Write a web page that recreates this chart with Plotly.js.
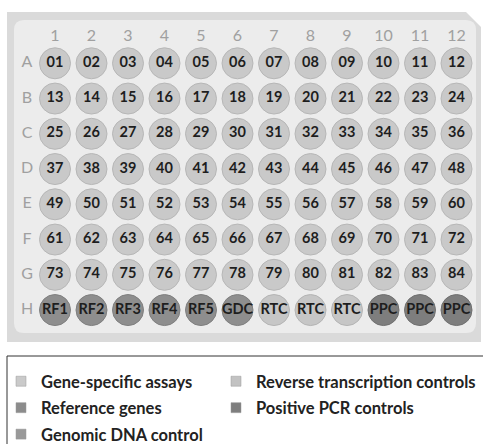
<!DOCTYPE html>
<html><head><meta charset="utf-8">
<script src="https://cdn.plot.ly/plotly-3.0.1.min.js"></script>
<style>html,body{margin:0;padding:0;background:#fff;}#chart{width:483px;height:444px;}</style>
</head><body><div id="chart"></div>
<script>
// ---- data ----
const columnLabels = ['1','2','3','4','5','6','7','8','9','10','11','12'];
const rowLabels = ['A','B','C','D','E','F','G','H'];
const rowA = ['01','02','03','04','05','06','07','08','09','10','11','12'];
const rowB = ['13','14','15','16','17','18','19','20','21','22','23','24'];
const rowC = ['25','26','27','28','29','30','31','32','33','34','35','36'];
const rowD = ['37','38','39','40','41','42','43','44','45','46','47','48'];
const rowE = ['49','50','51','52','53','54','55','56','57','58','59','60'];
const rowF = ['61','62','63','64','65','66','67','68','69','70','71','72'];
const rowG = ['73','74','75','76','77','78','79','80','81','82','83','84'];
const rowH = ['RF1','RF2','RF3','RF4','RF5','GDC','RTC','RTC','RTC','PPC','PPC','PPC'];
const rowHTypes = ['ref','ref','ref','ref','ref','gdc','rtc','rtc','rtc','ppc','ppc','ppc'];
const categoryKeys = ['gene','ref','gdc','rtc','ppc'];
const categoryNames = ['Gene-specific assays','Reference genes','Genomic DNA control','Reverse transcription controls','Positive PCR controls'];
const categoryLegend = ['legend','legend','legend','legend2','legend2'];

// ---- styles ----
const fillColors = {gene:'#c9c9c9', rtc:'#c6c6c6', ref:'#8e8e8e', ppc:'#7e7e7e', gdc:'#8e8e8e'};
const lineColors = {gene:'#b7b7b7', rtc:'#b4b4b4', ref:'#7f7f7f', ppc:'#707070', gdc:'#7f7f7f'};
const legendColors = {gene:'#cacaca', rtc:'#c2c2c2', ref:'#8c8c8c', ppc:'#7e7e7e', gdc:'#999999'};

const W = 483, H = 444;
const FONT = 'Lato, "Open Sans", sans-serif';
const col1X = 55, colStep = 36.5, rowAY = 63.3, rowStep = 35.25;
const xRange = [1 - col1X/colStep, 1 + (W - col1X)/colStep];
const yRange = [1 + (H - rowAY)/rowStep, 1 - rowAY/rowStep];

const plateRows = [rowA,rowB,rowC,rowD,rowE,rowF,rowG,rowH];
const groups = {};
categoryKeys.forEach(k => groups[k] = {x:[], y:[], t:[]});
plateRows.forEach((row, ri) => {
  row.forEach((lab, ci) => {
    const k = ri < 7 ? 'gene' : rowHTypes[ci];
    groups[k].x.push(ci + 1);
    groups[k].y.push(ri + 1);
    groups[k].t.push(lab);
  });
});

const traces = [];
categoryKeys.forEach(k => {
  traces.push({
    type:'scatter', mode:'markers+text', x:groups[k].x, y:groups[k].y, text:groups[k].t,
    textposition:'middle center', showlegend:false, hoverinfo:'skip',
    marker:{symbol:'circle', size:31, color:fillColors[k], line:{color:lineColors[k], width:1}},
    textfont:{family:FONT, size:14.5, color:'#1e1e1e', weight:700}
  });
});
traces.push({type:'scatter', mode:'text', x:columnLabels.map((c,i)=>i+1), y:columnLabels.map(()=>1-(rowAY-37)/rowStep),
  text:columnLabels, showlegend:false, hoverinfo:'skip', textfont:{family:FONT, size:16, color:'#a0a0a0'}});
traces.push({type:'scatter', mode:'text', x:rowLabels.map(()=>1-(col1X-27)/colStep), y:rowLabels.map((r,i)=>i+1),
  text:rowLabels, showlegend:false, hoverinfo:'skip', textfont:{family:FONT, size:16, color:'#a0a0a0'}});
categoryKeys.forEach((k,i) => {
  traces.push({type:'scatter', mode:'markers', x:[null], y:[null], name:categoryNames[i], showlegend:true,
    legend:categoryLegend[i], legendgroup:k,
    marker:{symbol:'square', size:10, color:legendColors[k], line:{color:'#9a9a9a', width:0.5}}});
});

const px = x => x / W, py = y => 1 - y / H;
function path(pts){ return 'M' + pts.map(p => px(p[0]) + ',' + py(p[1])).join(' L') + ' Z'; }
function roundRect(x0,y0,x1,y1,r){
  return `M${px(x0+r)},${py(y0)} L${px(x1-r)},${py(y0)} Q${px(x1)},${py(y0)} ${px(x1)},${py(y0+r)} L${px(x1)},${py(y1-r)} Q${px(x1)},${py(y1)} ${px(x1-r)},${py(y1)} L${px(x0+r)},${py(y1)} Q${px(x0)},${py(y1)} ${px(x0)},${py(y1-r)} L${px(x0)},${py(y0+r)} Q${px(x0)},${py(y0)} ${px(x0+r)},${py(y0)} Z`;
}
const shapes = [
  {type:'path', xref:'paper', yref:'paper', layer:'below', path:path([[7,12],[466,12],[481,27],[481,342],[7,342]]), fillcolor:'#dadada', line:{width:0}},
  {type:'path', xref:'paper', yref:'paper', layer:'below', path:roundRect(14,20,476,333,10), fillcolor:'#ececec', line:{width:0}},
  {type:'rect', xref:'paper', yref:'paper', x0:px(7), x1:px(492), y0:py(356), y1:py(452), fillcolor:'rgba(0,0,0,0)', line:{color:'#333', width:1}}
];

const legendBase = {bgcolor:'rgba(0,0,0,0)', borderwidth:0, traceorder:'grouped', tracegroupgap:2,
  font:{family:FONT, size:16.5, color:'#222', weight:700}, itemclick:false, itemdoubleclick:false,
  orientation:'v', xanchor:'left', yanchor:'top', y:py(364)};
const layout = {
  width:W, height:H, margin:{l:0,r:0,t:0,b:0, autoexpand:false}, paper_bgcolor:'#fff', plot_bgcolor:'rgba(0,0,0,0)',
  xaxis:{range:xRange, visible:false, fixedrange:true},
  yaxis:{range:yRange, visible:false, fixedrange:true},
  shapes:shapes, showlegend:true,
  legend:Object.assign({}, legendBase, {x:px(1)}),
  legend2:Object.assign({}, legendBase, {x:px(216)})
};
Plotly.newPlot('chart', traces, layout, {displayModeBar:false, staticPlot:true});
</script></body></html>
